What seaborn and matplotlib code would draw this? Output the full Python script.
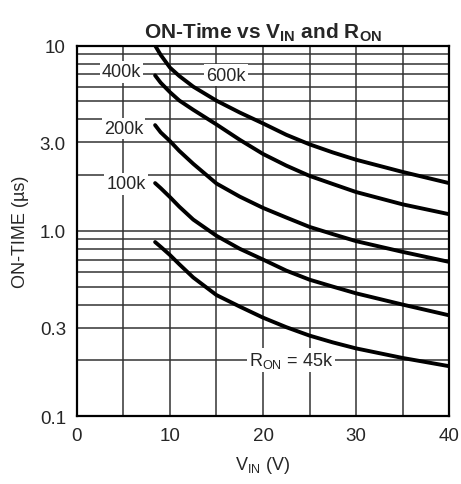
#!/usr/bin/env python3
import matplotlib

matplotlib.use("Agg")
import matplotlib.pyplot as plt
from matplotlib.ticker import FixedLocator, LogLocator, NullFormatter
import pandas as pd
import seaborn as sns

# Values (V_IN in volts, ON-time in us)
VIN = [8.4, 9, 10, 11, 12.5, 15, 17.5, 20, 22.5, 25, 27.5, 30, 35, 40]
T_600K = [10.0, 8.9, 7.6, 6.85, 6.0, 5.04, 4.35, 3.8, 3.3, 2.93, 2.65, 2.42, 2.08, 1.81]
T_400K = [6.9, 6.3, 5.6, 5.05, 4.5, 3.75, 3.1, 2.6, 2.25, 1.98, 1.79, 1.62, 1.39, 1.23]
T_200K = [3.72, 3.4, 3.05, 2.7, 2.3, 1.8, 1.53, 1.33, 1.18, 1.05, 0.96, 0.88, 0.77, 0.68]
T_100K = [1.81, 1.7, 1.52, 1.35, 1.15, 0.94, 0.8, 0.70, 0.61, 0.545, 0.5, 0.46, 0.40, 0.35]
T_45K = [0.87, 0.82, 0.74, 0.66, 0.56, 0.45, 0.39, 0.34, 0.302, 0.272, 0.25, 0.232, 0.206, 0.186]
RON = ["600k", "400k", "200k", "100k", "45k"]

X_TICKS = [0, 10, 20, 30, 40]
Y_TICKS = [0.1, 0.3, 1.0, 3.0, 10]
Y_TICK_LABELS = ["0.1", "0.3", "1.0", "3.0", "10"]

rows = []
for name, vals in zip(RON, [T_600K, T_400K, T_200K, T_100K, T_45K]):
    for v, t in zip(VIN, vals):
        rows.append({"vin": v, "ton": t, "ron": name})
df = pd.DataFrame(rows)

# Style
sns.set_style("white")
plt.rcParams["font.family"] = ["Liberation Sans", "DejaVu Sans"]
plt.rcParams["mathtext.fontset"] = "custom"
plt.rcParams["mathtext.rm"] = "Liberation Sans"
plt.rcParams["mathtext.bf"] = "Liberation Sans:bold"

fig = plt.figure(figsize=(4.61, 4.85), dpi=100)
ax = fig.add_axes([0.167, 0.140, 0.807, 0.764])

sns.lineplot(
    data=df,
    x="vin",
    y="ton",
    units="ron",
    estimator=None,
    color="black",
    lw=2.8,
    solid_capstyle="round",
    ax=ax,
    zorder=4,
)

ax.set_yscale("log")
ax.set_xlim(0, 40)
ax.set_ylim(0.1, 10)

ax.xaxis.set_major_locator(FixedLocator(X_TICKS))
ax.xaxis.set_minor_locator(FixedLocator([5, 15, 25, 35]))
ax.yaxis.set_major_locator(FixedLocator(Y_TICKS))
ax.yaxis.set_minor_locator(LogLocator(base=10, subs=(2, 4, 5, 6, 7, 8, 9)))
ax.yaxis.set_minor_formatter(NullFormatter())
ax.set_yticklabels(Y_TICK_LABELS)

ax.grid(which="both", color="#333333", lw=1.1)
ax.set_axisbelow(True)
ax.tick_params(which="both", length=0, labelsize=13.5, pad=8)

for s in ax.spines.values():
    s.set_color("black")
    s.set_linewidth(1.6)

ax.set_xlabel(r"V$_\mathrm{IN}$ (V)", fontsize=13, labelpad=7)
ax.set_ylabel("ON-TIME (\u00b5s)", fontsize=13, labelpad=8)
ax.set_title(
    r"ON-Time vs V$_\mathbf{IN}$ and R$_\mathbf{ON}$",
    fontsize=15,
    fontweight="bold",
    pad=6,
)

# Curve labels on white boxes
box = dict(facecolor="white", edgecolor="none", pad=1.5)
labels = [
    (4.8, 7.2, "400k"),
    (16.0, 6.93, "600k"),
    (5.0, 3.57, "200k"),
    (5.3, 1.79, "100k"),
    (23.0, 0.2, r"R$_\mathrm{ON}$ = 45k"),
]
for x, y, txt in labels:
    ax.text(x, y, txt, ha="center", va="center", fontsize=13, bbox=box, zorder=3)

fig.savefig("out.png", dpi=100)
